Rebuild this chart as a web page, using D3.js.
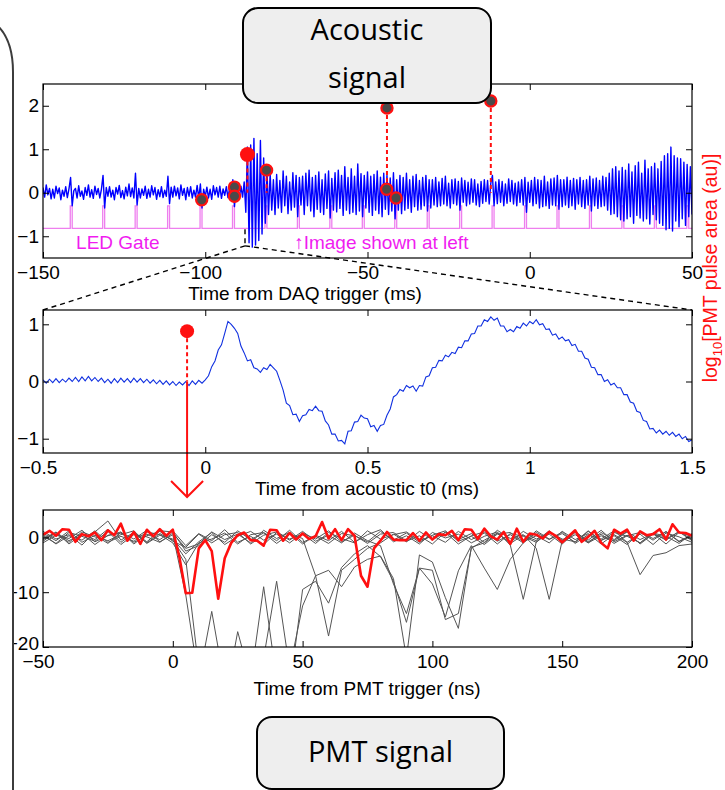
<!DOCTYPE html>
<html><head><meta charset="utf-8">
<script src="https://cdn.jsdelivr.net/npm/d3@7"></script>
<style>html,body{margin:0;padding:0;background:#fff;} svg{display:block;}</style>
</head><body>
<svg id="chart" width="725" height="790"></svg>
<script>
// ---------------- DATA ----------------
// Top panel: acoustic signal vs time from DAQ trigger (ms), sampled every 0.5 ms from -150
const acousticStart = -150, acousticStep = 0.5;
const acousticSignal = [
 0.12,-0.10,0.18,-0.05,0.10,-0.14,0.08,-0.12,0.15,-0.02,0.11,-0.16,0.06,-0.08,0.14,-0.11,0.09,0.35,-0.30,0.05,
 0.10,-0.12,0.16,-0.08,0.04,-0.15,0.12,-0.06,0.18,-0.10,0.07,-0.13,0.15,-0.04,0.10,-0.12,0.08,0.40,-0.35,0.12,
 -0.08,0.14,-0.10,0.06,-0.16,0.12,-0.03,0.17,-0.11,0.05,-0.14,0.13,-0.07,0.20,-0.09,0.11,-0.12,0.45,-0.28,0.10,
 -0.12,0.09,-0.06,0.15,-0.13,0.08,-0.10,0.16,-0.05,0.12,-0.15,0.07,-0.09,0.14,-0.11,0.06,-0.08,0.38,-0.25,0.13,
 -0.10,0.15,-0.07,0.11,-0.14,0.18,-0.06,0.10,-0.16,0.12,-0.08,0.14,-0.12,0.06,-0.10,0.17,-0.13,0.20,-0.35,0.08,
 -0.09,0.13,-0.12,0.08,-0.15,0.16,-0.05,0.12,-0.10,0.15,-0.13,0.09,-0.06,0.14,-0.11,0.10,-0.14,0.30,-0.32,0.12,
 0.10,-0.12,0.15,-0.10,0.25,-0.45,1.05,-1.15,1.10,-1.25,1.25,-1.20,0.90,-1.10,1.20,-0.95,0.80,-0.70,0.55,-0.50,
 0.45,-0.40,0.30,-0.50,0.42,-0.35,0.28,-0.45,0.50,-0.30,0.38,-0.48,0.25,-0.40,0.46,-0.33,0.40,-0.55,0.35,-0.28,
 0.38,-0.50,0.45,-0.30,0.52,-0.42,0.35,-0.55,0.40,-0.38,0.48,-0.45,0.30,-0.50,0.43,-0.36,0.50,-0.58,0.33,-0.40,
 0.46,-0.44,0.52,-0.36,0.40,-0.52,0.60,-0.40,0.35,-0.48,0.55,-0.45,0.38,-0.50,0.66,-0.42,0.44,-0.55,0.40,-0.35,
 0.48,-0.45,0.38,-0.52,0.42,-0.40,0.50,-0.48,0.36,-0.55,0.45,-0.38,0.40,-0.50,0.34,-0.42,0.46,-0.60,0.30,-0.40,
 0.40,-0.48,0.35,-0.40,0.45,-0.36,0.30,-0.45,0.38,-0.32,0.42,-0.40,0.28,-0.38,0.35,-0.30,0.40,-0.42,0.30,-0.35,
 0.30,-0.28,0.35,-0.32,0.25,-0.30,0.33,-0.26,0.38,-0.30,0.22,-0.35,0.30,-0.25,0.32,-0.28,0.26,-0.40,0.34,-0.22,
 0.28,-0.30,0.24,-0.26,0.32,-0.22,0.30,-0.28,0.20,-0.32,0.26,-0.24,0.30,-0.20,0.28,-0.26,0.22,0.40,-0.30,0.25,
 -0.25,0.30,-0.22,0.26,-0.30,0.20,-0.24,0.32,-0.20,0.28,-0.26,0.22,-0.30,0.25,-0.22,0.30,-0.28,0.35,-0.45,0.24,
 -0.22,0.28,-0.30,0.35,-0.25,0.30,-0.35,0.28,-0.32,0.38,-0.30,0.25,-0.36,0.32,-0.28,0.34,-0.30,0.40,-0.38,0.30,
 -0.32,0.30,-0.28,0.36,-0.34,0.28,-0.30,0.33,-0.38,0.30,-0.26,0.35,-0.32,0.28,-0.36,0.30,-0.28,0.38,-0.42,0.32,
 -0.30,0.34,-0.36,0.28,-0.32,0.38,-0.30,0.35,-0.40,0.45,-0.50,0.55,-0.48,0.60,-0.55,0.50,-0.62,0.58,-0.65,0.52,
 -0.60,0.66,-0.55,0.48,-0.70,0.62,-0.52,0.70,-0.58,0.45,-0.65,0.75,-0.60,0.55,-0.72,0.60,-0.50,0.68,-0.62,0.55,
 -0.70,0.72,-0.75,0.85,-0.85,0.90,-0.82,1.05,-0.88,0.85,-0.65,0.80,-0.78,0.78,-0.60,0.70,-0.75,0.65,-0.55,0.60,
 -0.50
];
const ledGateTimes = [-141.6,-131.6,-121.6,-111.6,-101.6,-91.6,-81.6,-71.6,-61.6,-51.6,-41.6,-31.6,-21.6,-11.6,-1.6,8.4,18.4,28.4,38.4,48.4];
const ledGateLow = -0.82, ledGateHigh = -0.30, ledGateWidth = 0.6;
const pmtPulseTimes = [-101.1,-91.0,-91.0,-81.1,-44.1,-41.2,-44.0,-12.0];
const pmtPulseAreas = [-0.16,0.13,-0.08,0.52,0.08,-0.12,1.95,2.11];
const pmtPulseDropped = [false,false,false,true,false,false,true,true];
const selectedPulseTime = -87.0, selectedPulseArea = 0.88;
const zoomWindowTime = -87.75, zoomWindowTop = -0.84, zoomWindowBottom = -1.22;
const topXDomain = [-150, 50], topYDomain = [-1.5, 2.5];
const topXTicks = [-150,-100,-50,0,50], topYTicks = [-1,0,1,2];

// Middle panel: zoomed acoustic signal vs time from acoustic t0 (ms), every 0.01 ms from -0.5
const zoomStart = -0.5, zoomStep = 0.01;
const zoomSignal = [
 0.03,-0.03,0.04,-0.02,0.05,-0.02,0.04,-0.01,0.06,0.00,
 0.07,0.00,0.08,0.01,0.09,0.01,0.07,0.00,0.06,-0.02,
 0.04,-0.03,0.05,-0.02,0.06,-0.01,0.05,-0.02,0.06,-0.01,
 0.05,-0.02,0.04,-0.03,0.03,-0.04,0.02,-0.05,0.01,-0.06,
 0.00,-0.07,-0.01,-0.06,0.00,-0.07,0.01,-0.05,0.02,-0.03,
 0.03,0.10,0.26,0.36,0.55,0.64,0.84,1.05,1.00,0.93,
 0.84,0.62,0.50,0.36,0.38,0.24,0.22,0.16,0.24,0.21,
 0.30,0.24,0.18,0.02,-0.15,-0.38,-0.42,-0.58,-0.57,-0.70,
 -0.60,-0.58,-0.49,-0.51,-0.43,-0.51,-0.52,-0.69,-0.76,-0.92,
 -0.92,-1.04,-1.03,-1.09,-0.87,-0.86,-0.71,-0.70,-0.59,-0.64,
 -0.65,-0.79,-0.77,-0.87,-0.77,-0.75,-0.59,-0.48,-0.27,-0.23,
 -0.14,-0.17,-0.07,-0.11,-0.08,-0.17,-0.07,-0.08,0.08,0.10,
 0.24,0.25,0.37,0.36,0.46,0.43,0.51,0.49,0.60,0.59,
 0.71,0.71,0.83,0.84,0.97,0.97,1.08,1.05,1.13,1.07,
 1.11,0.97,0.97,0.87,0.91,0.87,0.96,0.93,1.02,0.97,
 1.05,1.01,1.08,0.99,1.01,0.91,0.92,0.81,0.83,0.74,
 0.78,0.71,0.73,0.63,0.65,0.53,0.53,0.41,0.39,0.25,
 0.24,0.12,0.12,0.00,0.03,-0.06,-0.03,-0.11,-0.11,-0.23,
 -0.23,-0.36,-0.38,-0.52,-0.54,-0.68,-0.70,-0.83,-0.82,-0.90,
 -0.85,-0.92,-0.87,-0.94,-0.89,-0.96,-0.92,-1.00,-0.96,-1.05,
 -1.02
];
const zoomMarkerTime = -0.056, zoomMarkerArea = 0.88;
const midXDomain = [-0.5, 1.5], midYDomain = [-1.25, 1.25];
const midXTicks = [-0.5,0,0.5,1,1.5], midYTicks = [-1,0,1];

// Bottom panel: PMT traces vs time from PMT trigger (ns)
const pmtStart = -50;
const pmtRedStep = 2.5;
const pmtRedTrace = [
 0.5,1.2,0.3,1.5,1.4,-0.8,0.6,0.2,0.9,-0.5,
 1.3,0.4,2.5,-0.6,1.0,-1.2,1.4,0.2,1.5,0.3,
 1.4,-3.5,-10.2,-10.1,-2.0,-0.5,-2.5,-11.2,-3.8,-1.0,
 0.4,0.9,-0.5,-0.6,-1.5,1.4,1.3,-0.6,0.8,-0.4,
 0.7,-0.3,0.2,2.8,-0.2,1.5,-0.5,1.5,0.3,-7.0,
 -9.0,-2.0,-0.6,1.0,-0.4,-0.5,-0.5,0.8,-0.6,0.9,
 -0.4,0.6,0.4,1.2,-0.5,1.5,1.4,-0.3,1.6,0.2,
 -0.4,1.0,-1.2,1.6,-0.8,0.7,0.5,-0.2,1.0,0.3,
 -0.9,0.2,1.3,-0.8,0.1,1.2,-1.0,-2.0,1.4,0.7,
 1.4,-0.6,1.1,0.4,0.6,1.5,-0.4,2.4,0.9,0.8,
 0.3
];
const pmtGrayStep = 5;
const pmtGrayA = [0.8,-0.6,1.2,-0.9,0.4,-1.1,0.9,-0.3,1.3,-0.8, 0.5,-10.5,-26,-13.5,-27,-30,-24,-22,-8,-24, -12.5,-7,-18,-6,-4,-2,-1,0.6,-0.8,1.1, -0.4,0.9,-1.2,0.3,1.0,-0.7,0.5,-1.0,1.2,-0.3, 0.7,-0.9,1.1,-0.5,0.3,-1.3,0.9,-0.2,1.0,-0.8, 0.4];
const pmtGrayB = [-0.7,1.0,-1.2,0.6,-0.4,1.5,-0.9,0.8,-1.0,0.7, -0.5,-4,-24,-28,-30,-17.2,-26,-9,-26,-28, -9.5,-8,-12,-5.5,-3,-1.5,-3.5,-8,-15.5,-5.6, -6,-15,-13.9,-2,-0.5,0.8,-1.1,0.4,-0.6,1.2, -0.8,0.5,-1.0,0.9,-0.4,1.1,-1.2,0.6,-0.3,1.0, -0.6];
const pmtGrayC = [1.1,-0.3,0.5,-1.4,1.0,3.0,-0.5,0.9,-0.8,1.2, 1.0,-2.5,-1.5,0.5,-0.9,1.2,-0.4,0.8,-1.1,0.6, -0.2,-7,-6,-9,-5.4,-4,-3.4,-7.5,-22,-3.2, -4.5,-11,-16.6,-1.8,-1.0,0.7,-0.9,1.1,-0.3,0.6, -1.2,0.9,-0.5,1.3,-0.8,0.4,-1.0,0.8,0.2,-1.1, 0.7];
const pmtGrayD = [-1.0,0.4,-0.2,1.3,-0.8,0.3,1.0,-1.2,0.6,-0.4, 1.2,-1.5,0.7,-0.6,1.4,-0.9,0.2,-1.3,0.9,-0.5, 1.1,-0.7,0.4,-1.0,0.8,-0.6,-1.5,-8.5,-13.9,-5.6, -8.5,-14.5,-6.1,-1.5,-5.6,-9.5,-4,-1.0,0.9,-0.4, 1.0,-1.1,0.5,-0.3,1.2,-0.9,0.6,-1.3,0.8,0.1, -0.9];
const pmtGrayE = [0.3,-1.1,0.9,0.2,-0.7,1.1,-1.3,0.5,0.1,-0.9, 0.8,-2.0,-1.2,1.0,-0.4,0.6,-1.0,1.3,-0.2,0.9, -1.2,0.4,-0.6,1.1,-0.9,0.5,1.4,-0.8,0.3,-1.2, 0.9,-0.1,0.6,-1.0,0.2,1.0,-1.4,-11.3,-0.8,0.9, -0.5,1.2,-1.0,0.3,-0.6,1.0,-0.4,0.7,-1.2,0.9, 0.2];
const pmtGrayF = [-0.4,0.7,-0.9,1.0,0.1,-0.6,0.5,1.2,-1.1,0.4, -0.3,-3.0,-0.8,0.9,-1.3,0.2,1.1,-0.5,0.6,-1.0, 0.8,-0.3,1.2,-0.8,0.4,-1.1,0.6,0.9,-0.7,0.3, -1.2,1.0,-0.4,0.7,-0.9,1.3,-0.2,0.5,-2.0,-11.3, -0.6,1.0,-0.8,0.6,-1.1,0.3,0.9,-0.5,1.1,-0.7, 0.5];
const pmtGrayG = [0.6,-1.2,0.3,-0.5,1.2,-0.9,0.2,-0.7,1.0,0.5, -1.0,-5.0,-1.0,-0.3,0.8,-1.2,0.5,0.9,-0.6,1.3, -0.9,0.2,-1.1,0.7,0.3,-0.8,1.1,-0.5,0.8,-0.9, 0.4,1.2,-0.7,0.2,-1.3,0.6,0.9,-0.8,0.3,-1.0, 1.1,-0.4,0.7,-1.2,0.5,-0.9,-6.8,-3.3,-2.8,-1.5, -1.2];
const pmtGrayH = [-0.2,0.9,-0.6,0.7,-1.3,0.4,0.8,-0.9,0.3,1.1, -0.7,-1.8,0.6,-1.0,0.5,0.9,-1.2,0.4,1.0,-0.3, 0.6,-1.1,0.9,-0.2,-1.0,1.2,-0.3,0.5,1.0,-0.6, 0.3,-0.9,1.1,-0.4,0.8,-1.2,0.7,0.2,-0.9,1.0, -0.3,-0.8,1.2,-0.6,0.9,0.2,-1.0,0.8,-0.5,1.1, -0.4];
const botXDomain = [-50, 200], botYDomain = [-20, 5];
const botXTicks = [-50,0,50,100,150,200], botYTicks = [-20,-10,0];

// Text
const topXTitle = "Time from DAQ trigger (ms)";
const midXTitle = "Time from acoustic t0 (ms)";
const botXTitle = "Time from PMT trigger (ns)";

// ---------------- DRAW ----------------
const svg = d3.select('#chart');
const FONT = "'Liberation Sans', Arial, Helvetica, sans-serif";
const BOXFONT = "'Open Sans', 'Noto Sans', sans-serif";
const fmt = d3.format('');

const xTop = d3.scaleLinear().domain(topXDomain).range([43, 692]);
const yTop = d3.scaleLinear().domain(topYDomain).range([258, 84]);
const xMid = d3.scaleLinear().domain(midXDomain).range([43, 692]);
const yMid = d3.scaleLinear().domain(midYDomain).range([453, 310]);
const xBot = d3.scaleLinear().domain(botXDomain).range([43, 692]);
const yBot = d3.scaleLinear().domain(botYDomain).range([647, 510]);

const defs = svg.append('defs');
function clip(id, x, y) {
  const [x0, x1] = x.range(), [yb, yt] = y.range();
  defs.append('clipPath').attr('id', id).append('rect')
    .attr('x', x0).attr('y', yt).attr('width', x1 - x0).attr('height', yb - yt);
  return `url(#${id})`;
}
function styleAxis(g) {
  g.select('.domain').remove();
  g.selectAll('line').attr('stroke', '#000').attr('stroke-width', 1);
  g.selectAll('text').attr('font-family', FONT).attr('font-size', 19).attr('fill', '#000');
}
function axes(x, y, xt, yt) {
  const [x0, x1] = x.range(), [yb, yt0] = y.range();
  const yMin = y.domain()[0];
  svg.append('g').attr('transform', `translate(0,${yb})`)
    .call(d3.axisBottom(x).tickValues(xt).tickFormat(fmt).tickSize(-6).tickSizeOuter(0).tickPadding(8))
    .call(styleAxis)
    .selectAll('.tick text').attr('x', d => d < 0 ? -5 : 0);
  svg.append('g').attr('transform', `translate(0,${yt0})`)
    .call(d3.axisTop(x).tickValues(xt).tickFormat(() => '').tickSize(-6).tickSizeOuter(0)).call(styleAxis);
  svg.append('g').attr('transform', `translate(${x0},0)`)
    .call(d3.axisLeft(y).tickValues(yt).tickFormat(fmt).tickSize(-6).tickSizeOuter(0).tickPadding(4)).call(styleAxis)
    .selectAll('.tick text').attr('y', d => d === yMin ? -4 : 0);
  svg.append('g').attr('transform', `translate(${x1},0)`)
    .call(d3.axisRight(y).tickValues(yt).tickFormat(() => '').tickSize(-6).tickSizeOuter(0)).call(styleAxis);
  svg.append('rect').attr('x', x0).attr('y', yt0).attr('width', x1 - x0).attr('height', yb - yt0)
    .attr('fill', 'none').attr('stroke', '#000').attr('stroke-width', 1.2);
}

// ---- top panel ----
const clipTop = clip('clipTop', xTop, yTop);
const gTop = svg.append('g').attr('clip-path', clipTop);
const gatePts = [[topXDomain[0], ledGateLow]];
ledGateTimes.forEach(t => {
  gatePts.push([t, ledGateLow], [t, ledGateHigh], [t + ledGateWidth, ledGateHigh], [t + ledGateWidth, ledGateLow]);
});
gatePts.push([topXDomain[1], ledGateLow]);
gTop.append('path').attr('d', d3.line().x(d => xTop(d[0])).y(d => yTop(d[1]))(gatePts))
  .attr('fill', 'none').attr('stroke', '#ee7fee').attr('stroke-width', 1.3);
gTop.append('path')
  .attr('d', d3.line().x((d, i) => xTop(acousticStart + i * acousticStep)).y(d => yTop(d))(acousticSignal))
  .attr('fill', 'none').attr('stroke', '#0000ff').attr('stroke-width', 1.4).attr('stroke-linejoin', 'round');

// drop lines
const drops = pmtPulseTimes.map((t, i) => ({t, v: pmtPulseAreas[i], d: pmtPulseDropped[i]})).filter(p => p.d);
drops.push({t: selectedPulseTime, v: selectedPulseArea});
svg.selectAll('line.drop').data(drops).join('line').attr('class', 'drop')
  .attr('x1', d => xTop(d.t)).attr('x2', d => xTop(d.t))
  .attr('y1', d => yTop(d.v)).attr('y2', yTop(0))
  .attr('stroke', '#ff1010').attr('stroke-width', 2).attr('stroke-dasharray', '4,3');
svg.selectAll('circle.pulse').data(pmtPulseTimes).join('circle').attr('class', 'pulse')
  .attr('cx', d => xTop(d)).attr('cy', (d, i) => yTop(pmtPulseAreas[i])).attr('r', 5.6)
  .attr('fill', '#4a4a4a').attr('stroke', '#ff1010').attr('stroke-width', 2.2);
svg.append('circle').attr('cx', xTop(selectedPulseTime)).attr('cy', yTop(selectedPulseArea)).attr('r', 7.5)
  .attr('fill', '#ff1010');

axes(xTop, yTop, topXTicks, topYTicks);

svg.append('text').attr('x', xTop(-139.8)).attr('y', yTop(-1.30)).text('LED Gate')
  .attr('font-family', FONT).attr('font-size', 19).attr('fill', '#f01cf0');
svg.append('text').attr('x', xTop(-72.6)).attr('y', yTop(-1.30)).text('\u2191Image shown at left')
  .attr('font-family', FONT).attr('font-size', 19).attr('fill', '#f01cf0');

// zoom-window dashed lines
const zx = xTop(zoomWindowTime), zyb = yTop(zoomWindowBottom);
const dashStyle = s => s.attr('stroke', '#000').attr('stroke-width', 1.4).attr('stroke-dasharray', '5,4').attr('fill', 'none');
svg.append('line').attr('x1', zx).attr('x2', zx).attr('y1', yTop(zoomWindowTop)).attr('y2', zyb).call(dashStyle);
svg.append('line').attr('x1', zx).attr('y1', zyb).attr('x2', xMid(midXDomain[0])).attr('y2', yMid(midYDomain[1])).call(dashStyle);
svg.append('line').attr('x1', zx).attr('y1', zyb).attr('x2', xMid(midXDomain[1])).attr('y2', yMid(midYDomain[1])).call(dashStyle);

// ---- middle panel ----
const clipMid = clip('clipMid', xMid, yMid);
svg.append('g').attr('clip-path', clipMid).append('path')
  .attr('d', d3.line().x((d, i) => xMid(zoomStart + i * zoomStep)).y(d => yMid(d))(zoomSignal))
  .attr('fill', 'none').attr('stroke', '#1030e0').attr('stroke-width', 1.1);
const mx = xMid(zoomMarkerTime);
svg.append('line').attr('x1', mx).attr('x2', mx).attr('y1', yMid(zoomMarkerArea)).attr('y2', yMid(0))
  .attr('stroke', '#ff1010').attr('stroke-width', 2).attr('stroke-dasharray', '4,3');
const arrowTip = yBot(botYDomain[1]) - 13;
svg.append('line').attr('x1', mx).attr('x2', mx).attr('y1', yMid(0)).attr('y2', arrowTip)
  .attr('stroke', '#ff1010').attr('stroke-width', 2);
svg.append('path').attr('d', `M${mx - 16},${arrowTip - 16}L${mx},${arrowTip}L${mx + 16},${arrowTip - 16}`)
  .attr('fill', 'none').attr('stroke', '#ff1010').attr('stroke-width', 2);
svg.append('circle').attr('cx', mx).attr('cy', yMid(zoomMarkerArea)).attr('r', 7).attr('fill', '#ff1010');
axes(xMid, yMid, midXTicks, midYTicks);

// ---- bottom panel ----
const clipBot = clip('clipBot', xBot, yBot);
const gBot = svg.append('g').attr('clip-path', clipBot);
const grayLine = d3.line().x((d, i) => xBot(pmtStart + i * pmtGrayStep)).y(d => yBot(d));
[pmtGrayA, pmtGrayB, pmtGrayC, pmtGrayD, pmtGrayE, pmtGrayF, pmtGrayG, pmtGrayH].forEach(tr => {
  gBot.append('path').attr('d', grayLine(tr)).attr('fill', 'none').attr('stroke', '#555').attr('stroke-width', 1);
});
gBot.append('path')
  .attr('d', d3.line().x((d, i) => xBot(pmtStart + i * pmtRedStep)).y(d => yBot(d))(pmtRedTrace))
  .attr('fill', 'none').attr('stroke', '#ff1010').attr('stroke-width', 2.6).attr('stroke-linejoin', 'round');
axes(xBot, yBot, botXTicks, botYTicks);

// ---- axis titles ----
const title = (txt, x, y) => svg.append('text').attr('x', x).attr('y', y).attr('text-anchor', 'middle')
  .attr('font-family', FONT).attr('font-size', 19).attr('fill', '#000').text(txt);
title(topXTitle, 305, 300);
title(midXTitle, 367, 495);
title(botXTitle, 367, 695);

// red right-hand label
const rl = svg.append('text').attr('transform', 'translate(717,268) rotate(-90)')
  .attr('text-anchor', 'middle').attr('font-family', FONT).attr('font-size', 19.5).attr('fill', '#ff1010');
rl.append('tspan').text('log');
rl.append('tspan').attr('dy', 5).attr('font-size', 13).text('10');
rl.append('tspan').attr('dy', -5).text('[PMT pulse area (au)]');

// left panel edge
svg.append('path').attr('d', 'M-5,0 L-5,795 L13,795 L13,72 C13,50 8,36 -2,26 Z').attr('fill', '#fff');
svg.append('path').attr('d', 'M-2,26 C8,36 13,50 13,72 L13,795').attr('fill', 'none')
  .attr('stroke', '#3c3c3c').attr('stroke-width', 2);

// callout boxes
function box(x0, y0, x1, y1, lines) {
  svg.append('rect').attr('x', x0).attr('y', y0).attr('width', x1 - x0).attr('height', y1 - y0)
    .attr('rx', 15).attr('fill', '#eeeeee').attr('stroke', '#000').attr('stroke-width', 2);
  lines.forEach(([txt, y]) => svg.append('text').attr('x', (x0 + x1) / 2).attr('y', y)
    .attr('text-anchor', 'middle').attr('font-family', BOXFONT).attr('font-size', 29).attr('fill', '#000').text(txt));
}
box(243, 8, 491, 103, [['Acoustic', 40], ['signal', 88]]);
box(257, 717, 504, 789, [['PMT signal', 762]]);
</script></body></html>
